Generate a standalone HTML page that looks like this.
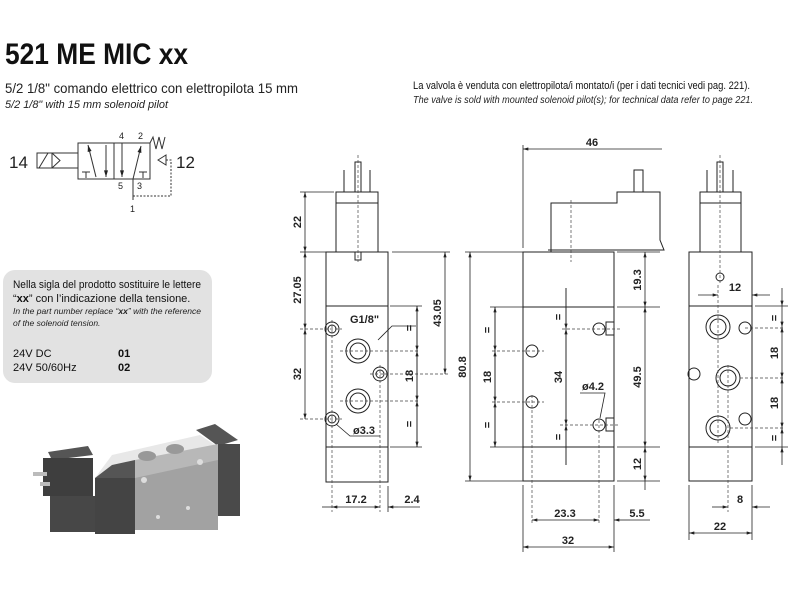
<!DOCTYPE html>
<html><head><meta charset="utf-8"><style>
html,body{margin:0;padding:0;background:#fff}
svg{display:block}
text{font-family:"Liberation Sans Narrow","Liberation Sans",sans-serif}
.d{font-family:"Liberation Sans",sans-serif;font-weight:bold;font-size:11px;fill:#222}
</style></head><body>
<svg width="800" height="600" viewBox="0 0 800 600" xmlns="http://www.w3.org/2000/svg">
<defs>
<marker id="a" viewBox="0 0 10 6" refX="10" refY="3" markerWidth="8" markerHeight="4" orient="auto-start-reverse"><path d="M0,0L10,3L0,6z" fill="#222"/></marker>
</defs>
<text x="5" y="64" font-size="30" font-weight="bold" textLength="183" lengthAdjust="spacingAndGlyphs" fill="#111">521 ME MIC xx</text>
<text x="5" y="93" font-size="14" textLength="293" lengthAdjust="spacingAndGlyphs" fill="#222">5/2 1/8" comando elettrico con elettropilota 15 mm</text>
<text x="5" y="108" font-size="11" font-style="italic" textLength="163" lengthAdjust="spacingAndGlyphs" fill="#222">5/2 1/8" with 15 mm solenoid pilot</text>
<text x="413" y="89" font-size="11" textLength="337" lengthAdjust="spacingAndGlyphs" fill="#111">La valvola è venduta con elettropilota/i montato/i (per i dati tecnici vedi pag. 221).</text>
<text x="413" y="103" font-size="10" font-style="italic" textLength="340" lengthAdjust="spacingAndGlyphs" fill="#222">The valve is sold with mounted solenoid pilot(s); for technical data refer to page 221.</text>

<!-- symbol -->
<g stroke="#333" stroke-width="1" fill="none">
<rect x="78" y="143" width="72" height="36"/>
<line x1="114" y1="143" x2="114" y2="179"/>
<rect x="37" y="153" width="15" height="15"/><line x1="39" y1="168" x2="48" y2="153"/>
<path d="M52,153 L60,160.5 L52,168"/><line x1="52" y1="153" x2="78" y2="153"/><line x1="52" y1="168" x2="78" y2="168"/>
<line x1="88" y1="145" x2="96" y2="177" marker-start="url(#a)"/>
<path d="M82,172h8M86,172v6"/>
<line x1="106" y1="145" x2="106" y2="177" marker-end="url(#a)"/>
<line x1="122" y1="143" x2="122" y2="177" marker-end="url(#a)"/>
<line x1="133" y1="179" x2="141" y2="146" marker-end="url(#a)"/>
<path d="M139,172h8M143,172v6"/>
<path d="M150,143 l3,-6 l3,12 l3,-12 l3,12 l3,-12"/>
<path d="M158,160 l8,-5 v10 z"/>
<line x1="133" y1="179" x2="133" y2="200"/>
<path d="M166,160 h5 v36 h-38" stroke-dasharray="2,1.5"/>
</g>
<g font-family="Liberation Sans,sans-serif" fill="#222">
<text x="9" y="168" font-size="17">14</text>
<text x="176" y="168" font-size="17">12</text>
<text x="119" y="139" font-size="9">4</text><text x="138" y="139" font-size="9">2</text>
<text x="118" y="189" font-size="9">5</text><text x="137" y="189" font-size="9">3</text>
<text x="130" y="212" font-size="9">1</text>
</g>

<!-- grey box -->
<rect x="3" y="270" width="209" height="113" rx="12" fill="#e2e2e2"/>
<text x="13" y="288" font-size="11" textLength="188" lengthAdjust="spacingAndGlyphs" fill="#111">Nella sigla del prodotto sostituire le lettere</text>
<text x="13" y="302" font-size="11" fill="#111">“<tspan font-weight="bold">xx</tspan>” con l’indicazione della tensione.</text>
<text x="13" y="314" font-size="8.5" font-style="italic" textLength="188" lengthAdjust="spacingAndGlyphs" fill="#222">In the part number replace “<tspan font-weight="bold">xx</tspan>” with the reference</text>
<text x="13" y="326" font-size="8.5" font-style="italic" fill="#222">of the solenoid tension.</text>
<text x="13" y="357" font-size="11" fill="#111">24V DC</text><text x="118" y="357" font-size="11" font-weight="bold" fill="#111">01</text>
<text x="13" y="371" font-size="11" fill="#111">24V 50/60Hz</text><text x="118" y="371" font-size="11" font-weight="bold" fill="#111">02</text>

<!-- photo -->
<g>
<polygon points="112,455 200,435 215,445 135,478 95,478" fill="#e8e8e8"/>
<polygon points="196,430 215,424 238,440 218,446" fill="#555"/>
<rect x="218" y="444" width="22" height="72" fill="#4a4a4a"/>
<rect x="135" y="460" width="83" height="70" fill="#a2a2a2"/>
<polygon points="135,460 218,444 218,460 135,478" fill="#b8b8b8"/>
<polygon points="95,478 112,465 135,460 135,478" fill="#555"/>
<rect x="95" y="478" width="40" height="56" fill="#444"/>
<polygon points="48,452 88,446 93,455 52,460" fill="#555"/>
<rect x="43" y="458" width="50" height="38" fill="#3e3e3e"/>
<rect x="50" y="496" width="45" height="36" fill="#474747"/>
<rect x="33" y="472" width="14" height="4" fill="#bbb"/><rect x="40" y="482" width="10" height="4" fill="#bbb"/>
<ellipse cx="147" cy="456" rx="9" ry="5" fill="#999"/><ellipse cx="175" cy="449" rx="9" ry="5" fill="#999"/>
<circle cx="144" cy="480" r="3" fill="#ddd"/><circle cx="200" cy="462" r="3" fill="#ddd"/>
<circle cx="158" cy="517" r="2" fill="#ddd"/><circle cx="188" cy="508" r="2" fill="#ddd"/>
</g>

<!-- LEFT VIEW -->
<g stroke="#222" stroke-width="1" fill="none">
<rect x="326" y="252" width="62" height="230"/>
<line x1="326" y1="306" x2="388" y2="306"/><line x1="326" y1="447" x2="388" y2="447"/>
<rect x="336" y="192" width="42" height="60"/><line x1="336" y1="203" x2="378" y2="203"/>
<line x1="344" y1="170" x2="344" y2="192"/><line x1="370" y1="170" x2="370" y2="192"/>
<rect x="355" y="162" width="6" height="30"/><rect x="355" y="252" width="6" height="8"/>
<circle cx="358" cy="351" r="12"/><circle cx="358" cy="351" r="8"/>
<circle cx="358" cy="401" r="12"/><circle cx="358" cy="401" r="8"/>
<circle cx="332" cy="329" r="7"/><circle cx="332" cy="329" r="4"/>
<circle cx="332" cy="419" r="7"/><circle cx="332" cy="419" r="4"/>
<circle cx="380" cy="374" r="7"/><circle cx="380" cy="374" r="4"/>
</g>
<g stroke="#444" stroke-width="0.7" fill="none" stroke-dasharray="3,2">
<line x1="358" y1="155" x2="358" y2="262"/>
<line x1="300" y1="329" x2="342" y2="329"/><line x1="300" y1="419" x2="342" y2="419"/>
<line x1="340" y1="351" x2="420" y2="351"/><line x1="340" y1="401" x2="420" y2="401"/>
<line x1="370" y1="374" x2="450" y2="374"/>
<line x1="332" y1="320" x2="332" y2="512"/><line x1="380" y1="365" x2="380" y2="512"/>
</g>
<g stroke="#222" stroke-width="0.8" fill="none">
<line x1="300" y1="192" x2="334" y2="192"/><line x1="300" y1="252" x2="326" y2="252"/><line x1="392" y1="252" x2="450" y2="252"/>
<line x1="390" y1="306" x2="422" y2="306"/><line x1="390" y1="447" x2="422" y2="447"/>
<line x1="388" y1="486" x2="388" y2="512"/>
<line x1="305" y1="192" x2="305" y2="252" marker-start="url(#a)" marker-end="url(#a)"/>
<line x1="305" y1="252" x2="305" y2="329" marker-start="url(#a)" marker-end="url(#a)"/>
<line x1="305" y1="329" x2="305" y2="419" marker-start="url(#a)" marker-end="url(#a)"/>
<line x1="445" y1="252" x2="445" y2="374" marker-start="url(#a)" marker-end="url(#a)"/>
<line x1="417" y1="306" x2="417" y2="447"/>
<line x1="417" y1="306" x2="417" y2="351" marker-start="url(#a)" marker-end="url(#a)"/>
<line x1="417" y1="351" x2="417" y2="401" marker-start="url(#a)" marker-end="url(#a)"/>
<line x1="417" y1="401" x2="417" y2="447" marker-start="url(#a)" marker-end="url(#a)"/>
<line x1="322" y1="507" x2="332" y2="507"/><line x1="332" y1="507" x2="380" y2="507" marker-start="url(#a)" marker-end="url(#a)"/>
<line x1="398" y1="507" x2="388" y2="507" marker-end="url(#a)"/><line x1="398" y1="507" x2="420" y2="507"/>
<path d="M378,340 L392,326 L416,326"/><path d="M336,424 L350,436 L380,436"/>
</g>
<g class="d">
<text transform="translate(301,222) rotate(-90)" text-anchor="middle">22</text>
<text transform="translate(301,290) rotate(-90)" text-anchor="middle">27.05</text>
<text transform="translate(301,374) rotate(-90)" text-anchor="middle">32</text>
<text transform="translate(441,313) rotate(-90)" text-anchor="middle">43.05</text>
<text transform="translate(413,376) rotate(-90)" text-anchor="middle">18</text>
<text transform="translate(413,328) rotate(-90)" text-anchor="middle">=</text>
<text transform="translate(413,424) rotate(-90)" text-anchor="middle">=</text>
<text x="350" y="323">G1/8"</text>
<text x="353" y="434">ø3.3</text>
<text x="356" y="503" text-anchor="middle">17.2</text>
<text x="412" y="503" text-anchor="middle">2.4</text>
</g>

<!-- MIDDLE VIEW -->
<g stroke="#222" stroke-width="1" fill="none">
<rect x="523" y="252" width="91" height="229"/>
<line x1="523" y1="307" x2="614" y2="307"/><line x1="523" y1="447" x2="614" y2="447"/>
<path d="M551,252 V203 H617 V192 H660 V240 L664,250 H548"/>
<rect x="634" y="170" width="9" height="22"/>
<circle cx="532" cy="351" r="6"/><circle cx="532" cy="402" r="6"/>
<circle cx="599" cy="329" r="6"/><circle cx="599" cy="425" r="6"/>
<rect x="606" y="322" width="8" height="13"/><rect x="606" y="418" width="8" height="13"/>
</g>
<g stroke="#444" stroke-width="0.7" fill="none" stroke-dasharray="3,2">
<line x1="571" y1="200" x2="571" y2="262"/>
<line x1="492" y1="351" x2="544" y2="351"/><line x1="492" y1="402" x2="544" y2="402"/>
<line x1="562" y1="329" x2="620" y2="329"/><line x1="560" y1="425" x2="620" y2="425"/>
<line x1="532" y1="395" x2="532" y2="525"/><line x1="599" y1="420" x2="599" y2="525"/>
</g>
<g stroke="#222" stroke-width="0.8" fill="none">
<line x1="523" y1="145" x2="523" y2="248"/>
<line x1="523" y1="149" x2="662" y2="149" marker-start="url(#a)"/>
<line x1="465" y1="252" x2="523" y2="252"/><line x1="465" y1="481" x2="523" y2="481"/>
<line x1="490" y1="307" x2="523" y2="307"/><line x1="490" y1="447" x2="523" y2="447"/>
<line x1="617" y1="252" x2="660" y2="252"/><line x1="617" y1="307" x2="660" y2="307"/><line x1="617" y1="447" x2="660" y2="447"/><line x1="617" y1="481" x2="660" y2="481"/>
<line x1="470" y1="252" x2="470" y2="481" marker-start="url(#a)" marker-end="url(#a)"/>
<line x1="495" y1="307" x2="495" y2="447"/>
<line x1="495" y1="307" x2="495" y2="351" marker-start="url(#a)" marker-end="url(#a)"/>
<line x1="495" y1="351" x2="495" y2="402" marker-start="url(#a)" marker-end="url(#a)"/>
<line x1="495" y1="402" x2="495" y2="447" marker-start="url(#a)" marker-end="url(#a)"/>
<line x1="566" y1="288" x2="566" y2="465"/>
<line x1="566" y1="288" x2="566" y2="329" marker-end="url(#a)"/>
<line x1="566" y1="329" x2="566" y2="425" marker-start="url(#a)" marker-end="url(#a)"/>
<line x1="566" y1="465" x2="566" y2="425" marker-end="url(#a)"/>
<line x1="645" y1="252" x2="645" y2="307" marker-start="url(#a)" marker-end="url(#a)"/>
<line x1="645" y1="307" x2="645" y2="447" marker-start="url(#a)" marker-end="url(#a)"/>
<line x1="645" y1="447" x2="645" y2="481" marker-start="url(#a)" marker-end="url(#a)"/>
<line x1="645" y1="481" x2="645" y2="490"/>
<line x1="523" y1="485" x2="523" y2="552"/><line x1="614" y1="485" x2="614" y2="552"/>
<line x1="532" y1="520" x2="599" y2="520" marker-start="url(#a)" marker-end="url(#a)"/>
<line x1="630" y1="520" x2="614" y2="520" marker-end="url(#a)"/><line x1="630" y1="520" x2="650" y2="520"/>
<line x1="523" y1="547" x2="614" y2="547" marker-start="url(#a)" marker-end="url(#a)"/>
<path d="M580,393 H605 L600,418"/>
</g>
<g class="d">
<text x="592" y="146" text-anchor="middle">46</text>
<text transform="translate(466,367) rotate(-90)" text-anchor="middle">80.8</text>
<text transform="translate(491,377) rotate(-90)" text-anchor="middle">18</text>
<text transform="translate(491,330) rotate(-90)" text-anchor="middle">=</text>
<text transform="translate(491,425) rotate(-90)" text-anchor="middle">=</text>
<text transform="translate(562,377) rotate(-90)" text-anchor="middle">34</text>
<text transform="translate(562,317) rotate(-90)" text-anchor="middle">=</text>
<text transform="translate(562,437) rotate(-90)" text-anchor="middle">=</text>
<text transform="translate(641,280) rotate(-90)" text-anchor="middle">19.3</text>
<text transform="translate(641,377) rotate(-90)" text-anchor="middle">49.5</text>
<text transform="translate(641,464) rotate(-90)" text-anchor="middle">12</text>
<text x="582" y="390">ø4.2</text>
<text x="565" y="517" text-anchor="middle">23.3</text>
<text x="637" y="517" text-anchor="middle">5.5</text>
<text x="568" y="544" text-anchor="middle">32</text>
</g>

<!-- RIGHT VIEW -->
<g stroke="#222" stroke-width="1" fill="none">
<rect x="689" y="252" width="63" height="229"/>
<line x1="689" y1="306" x2="752" y2="306"/><line x1="689" y1="447" x2="752" y2="447"/>
<rect x="700" y="192" width="41" height="60"/><line x1="700" y1="203" x2="741" y2="203"/>
<line x1="707" y1="170" x2="707" y2="192"/><line x1="733" y1="170" x2="733" y2="192"/>
<rect x="717" y="162" width="6" height="30"/>
<circle cx="720" cy="277" r="4"/>
<circle cx="718" cy="327" r="12"/><circle cx="718" cy="327" r="8"/>
<circle cx="728" cy="378" r="12"/><circle cx="728" cy="378" r="8"/>
<circle cx="718" cy="428" r="12"/><circle cx="718" cy="428" r="8"/>
<circle cx="745" cy="328" r="6"/><circle cx="694" cy="374" r="6"/><circle cx="745" cy="419" r="6"/>
</g>
<g stroke="#444" stroke-width="0.7" fill="none" stroke-dasharray="3,2">
<line x1="720" y1="155" x2="720" y2="285"/>
<line x1="718" y1="285" x2="718" y2="445"/><line x1="728" y1="365" x2="728" y2="512"/>
<line x1="745" y1="328" x2="785" y2="328"/><line x1="740" y1="378" x2="785" y2="378"/><line x1="730" y1="428" x2="785" y2="428"/>
</g>
<g stroke="#222" stroke-width="0.8" fill="none">
<line x1="698" y1="295" x2="718" y2="295" marker-end="url(#a)"/><line x1="770" y1="295" x2="752" y2="295" marker-end="url(#a)"/>
<line x1="755" y1="306" x2="788" y2="306"/><line x1="755" y1="447" x2="788" y2="447"/>
<line x1="782" y1="288" x2="782" y2="306" marker-end="url(#a)"/>
<line x1="782" y1="306" x2="782" y2="327" marker-end="url(#a)"/>
<line x1="782" y1="327" x2="782" y2="378" marker-start="url(#a)" marker-end="url(#a)"/>
<line x1="782" y1="378" x2="782" y2="428" marker-start="url(#a)" marker-end="url(#a)"/>
<line x1="782" y1="428" x2="782" y2="447" marker-start="url(#a)"/>
<line x1="782" y1="465" x2="782" y2="447" marker-end="url(#a)"/>
<line x1="689" y1="485" x2="689" y2="540"/><line x1="752" y1="485" x2="752" y2="540"/>
<line x1="712" y1="507" x2="728" y2="507" marker-end="url(#a)"/><line x1="770" y1="507" x2="752" y2="507" marker-end="url(#a)"/>
<line x1="689" y1="533" x2="752" y2="533" marker-start="url(#a)" marker-end="url(#a)"/>
</g>
<g class="d">
<text x="735" y="291" text-anchor="middle">12</text>
<text transform="translate(778,318) rotate(-90)" text-anchor="middle">=</text>
<text transform="translate(778,353) rotate(-90)" text-anchor="middle">18</text>
<text transform="translate(778,403) rotate(-90)" text-anchor="middle">18</text>
<text transform="translate(778,438) rotate(-90)" text-anchor="middle">=</text>
<text x="740" y="503" text-anchor="middle">8</text>
<text x="720" y="530" text-anchor="middle">22</text>
</g>
</svg>
</body></html>
